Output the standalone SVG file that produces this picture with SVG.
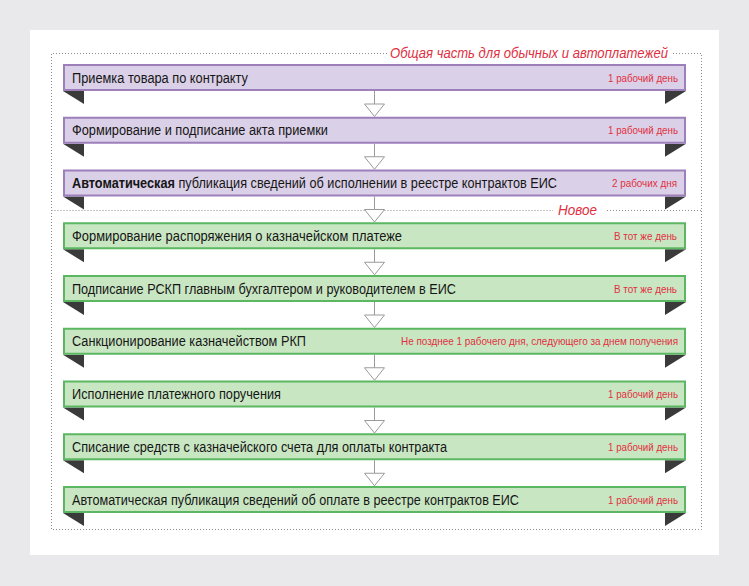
<svg xmlns="http://www.w3.org/2000/svg" width="749" height="586" viewBox="0 0 749 586">
<style>
.bg{fill:#e9e9eb}
.panel{fill:#ffffff}
.dot{fill:none;stroke:#8c8c8c;stroke-width:1;stroke-dasharray:1 2}
.p rect{fill:#dad0e7;stroke:#9c7fbb;stroke-width:2}
.g rect{fill:#c9e6c3;stroke:#5cb762;stroke-width:2}
.fold{fill:#3a3a3a}
.t{font-family:"Liberation Sans",Arial,sans-serif;font-size:14px;fill:#161616}
.d{font-family:"Liberation Sans",Arial,sans-serif;font-size:10.5px;fill:#e0303f}
.lbl{font-family:"Liberation Sans",Arial,sans-serif;font-size:14.5px;font-style:italic;fill:#e0303f}
.conn line{stroke:#9a9a9a;stroke-width:1}
.conn polygon{fill:#ffffff;stroke:#9a9a9a;stroke-width:1}
</style>
<rect class="bg" x="0" y="0" width="749" height="586"/>
<rect class="panel" x="30" y="30" width="689" height="525"/>
<g id="frame">
<path class="dot" d="M387 53.5H51.5V529.5H701.5V53.5H672"/>
<path class="dot" d="M51.5 210.5H553M607 210.5H701.5"/>
<text class="lbl" x="390" y="58" textLength="278" lengthAdjust="spacingAndGlyphs">Общая часть для обычных и автоплатежей</text>
<text class="lbl" x="558" y="215" textLength="39" lengthAdjust="spacingAndGlyphs">Новое</text>
</g>
<g id="connectors" class="conn">
<line x1="374.5" y1="91" x2="374.5" y2="104"/><polygon points="364.5,104 384.5,104 374.5,116.5"/>
<line x1="374.5" y1="143.75" x2="374.5" y2="156.75"/><polygon points="364.5,156.75 384.5,156.75 374.5,169.25"/>
<line x1="374.5" y1="196.5" x2="374.5" y2="209.5"/><polygon points="364.5,209.5 384.5,209.5 374.5,222"/>
<line x1="374.5" y1="249.25" x2="374.5" y2="262.25"/><polygon points="364.5,262.25 384.5,262.25 374.5,274.75"/>
<line x1="374.5" y1="302" x2="374.5" y2="315"/><polygon points="364.5,315 384.5,315 374.5,327.5"/>
<line x1="374.5" y1="354.75" x2="374.5" y2="367.75"/><polygon points="364.5,367.75 384.5,367.75 374.5,380.25"/>
<line x1="374.5" y1="407.5" x2="374.5" y2="420.5"/><polygon points="364.5,420.5 384.5,420.5 374.5,433"/>
<line x1="374.5" y1="460.25" x2="374.5" y2="473.25"/><polygon points="364.5,473.25 384.5,473.25 374.5,485.75"/>
</g>
<g id="n1" class="p" transform="translate(0,64)">
<polygon class="fold" points="63,27 84,27 84,40"/><polygon class="fold" points="686,27 665,27 665,40"/>
<rect x="64" y="1" width="621" height="25"/>
<text class="t" x="72" y="18.5" textLength="176" lengthAdjust="spacingAndGlyphs">Приемка товара по контракту</text>
<text class="d" x="608" y="17.5" textLength="70" lengthAdjust="spacingAndGlyphs">1 рабочий день</text>
</g>
<g id="n2" class="p" transform="translate(0,116.75)">
<polygon class="fold" points="63,27 84,27 84,40"/><polygon class="fold" points="686,27 665,27 665,40"/>
<rect x="64" y="1" width="621" height="25"/>
<text class="t" x="72" y="18.5" textLength="256" lengthAdjust="spacingAndGlyphs">Формирование и подписание акта приемки</text>
<text class="d" x="608" y="17.5" textLength="70" lengthAdjust="spacingAndGlyphs">1 рабочий день</text>
</g>
<g id="n3" class="p" transform="translate(0,169.5)">
<polygon class="fold" points="63,27 84,27 84,40"/><polygon class="fold" points="686,27 665,27 665,40"/>
<rect x="64" y="1" width="621" height="25"/>
<text class="t" x="72" y="18.5" textLength="485" lengthAdjust="spacingAndGlyphs"><tspan font-weight="bold">Автоматическая</tspan> публикация сведений об исполнении в реестре контрактов ЕИС</text>
<text class="d" x="612" y="17.5" textLength="65" lengthAdjust="spacingAndGlyphs">2 рабочих дня</text>
</g>
<g id="n4" class="g" transform="translate(0,222.25)">
<polygon class="fold" points="63,27 84,27 84,40"/><polygon class="fold" points="686,27 665,27 665,40"/>
<rect x="64" y="1" width="621" height="25"/>
<text class="t" x="72" y="18.5" textLength="330" lengthAdjust="spacingAndGlyphs">Формирование распоряжения о казначейском платеже</text>
<text class="d" x="614" y="17.5" textLength="63" lengthAdjust="spacingAndGlyphs">В тот же день</text>
</g>
<g id="n5" class="g" transform="translate(0,275)">
<polygon class="fold" points="63,27 84,27 84,40"/><polygon class="fold" points="686,27 665,27 665,40"/>
<rect x="64" y="1" width="621" height="25"/>
<text class="t" x="72" y="18.5" textLength="384" lengthAdjust="spacingAndGlyphs">Подписание РСКП главным бухгалтером и руководителем в ЕИС</text>
<text class="d" x="614" y="17.5" textLength="63" lengthAdjust="spacingAndGlyphs">В тот же день</text>
</g>
<g id="n6" class="g" transform="translate(0,327.75)">
<polygon class="fold" points="63,27 84,27 84,40"/><polygon class="fold" points="686,27 665,27 665,40"/>
<rect x="64" y="1" width="621" height="25"/>
<text class="t" x="72" y="18.5" textLength="234" lengthAdjust="spacingAndGlyphs">Санкционирование казначейством РКП</text>
<text class="d" x="401" y="17.5" textLength="277" lengthAdjust="spacingAndGlyphs">Не позднее 1 рабочего дня, следующего за днем получения</text>
</g>
<g id="n7" class="g" transform="translate(0,380.5)">
<polygon class="fold" points="63,27 84,27 84,40"/><polygon class="fold" points="686,27 665,27 665,40"/>
<rect x="64" y="1" width="621" height="25"/>
<text class="t" x="72" y="18.5" textLength="209" lengthAdjust="spacingAndGlyphs">Исполнение платежного поручения</text>
<text class="d" x="608" y="17.5" textLength="70" lengthAdjust="spacingAndGlyphs">1 рабочий день</text>
</g>
<g id="n8" class="g" transform="translate(0,433.25)">
<polygon class="fold" points="63,27 84,27 84,40"/><polygon class="fold" points="686,27 665,27 665,40"/>
<rect x="64" y="1" width="621" height="25"/>
<text class="t" x="72" y="18.5" textLength="375" lengthAdjust="spacingAndGlyphs">Списание средств с казначейского счета для оплаты контракта</text>
<text class="d" x="608" y="17.5" textLength="70" lengthAdjust="spacingAndGlyphs">1 рабочий день</text>
</g>
<g id="n9" class="g" transform="translate(0,486)">
<polygon class="fold" points="63,27 84,27 84,40"/><polygon class="fold" points="686,27 665,27 665,40"/>
<rect x="64" y="1" width="621" height="25"/>
<text class="t" x="72" y="18.5" textLength="447" lengthAdjust="spacingAndGlyphs">Автоматическая публикация сведений об оплате в реестре контрактов ЕИС</text>
<text class="d" x="608" y="17.5" textLength="70" lengthAdjust="spacingAndGlyphs">1 рабочий день</text>
</g>
</svg>
